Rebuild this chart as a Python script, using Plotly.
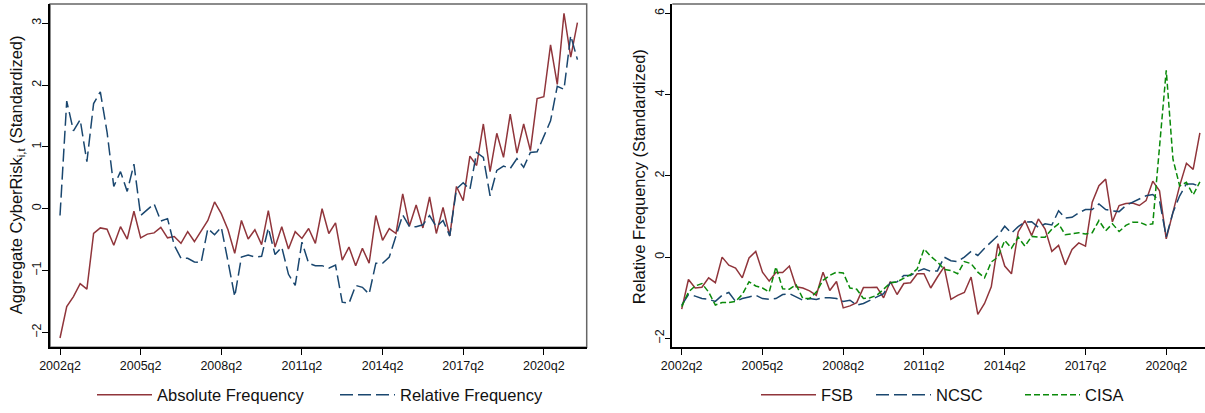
import plotly.graph_objects as go

# ---------------- data ----------------
start_year, start_q = 2002, 2
n_periods = 78
quarters = []
y, q = start_year, start_q
for _ in range(n_periods):
    quarters.append(f"{y}q{q}")
    q += 1
    if q > 4:
        q = 1
        y += 1

tick_labels = ["2002q2", "2005q2", "2008q2", "2011q2", "2014q2", "2017q2", "2020q2"]

absolute_freq = [-2.09, -1.58, -1.42, -1.21, -1.30, -0.40, -0.31, -0.33, -0.59, -0.29,
                 -0.49, -0.04, -0.47, -0.41, -0.39, -0.30, -0.47, -0.45, -0.56, -0.37,
                 -0.53, -0.37, -0.19, 0.11, -0.08, -0.34, -0.72, -0.19, -0.49, -0.34,
                 -0.58, -0.03, -0.62, -0.29, -0.65, -0.37, -0.48, -0.32, -0.56, 0.00,
                 -0.40, -0.23, -0.83, -0.62, -0.92, -0.64, -0.88, -0.11, -0.51, -0.32,
                 -0.40, 0.24, -0.28, 0.06, -0.31, 0.19, -0.40, 0.02, -0.44, 0.36,
                 0.13, 0.85, 0.70, 1.37, 0.60, 1.22, 0.83, 1.53, 0.90, 1.37,
                 0.94, 1.78, 1.81, 2.65, 2.01, 3.16, 2.45, 3.01]

relative_freq = [-0.11, 1.74, 1.26, 1.44, 0.76, 1.70, 1.89, 1.24, 0.36, 0.60,
                 0.28, 0.72, -0.11, -0.01, 0.08, -0.20, -0.16, -0.59, -0.80, -0.80,
                 -0.86, -0.87, -0.32, -0.42, -0.30, -0.85, -1.42, -0.78, -0.75, -0.78,
                 -0.77, -0.31, -0.74, -0.62, -1.06, -1.24, -0.54, -0.88, -0.92, -0.92,
                 -0.96, -0.91, -1.51, -1.53, -1.24, -1.27, -1.38, -0.88, -0.88, -0.78,
                 -0.44, -0.10, -0.29, -0.29, -0.26, -0.11, -0.29, -0.19, -0.44, 0.32,
                 0.42, 0.31, 0.91, 0.83, 0.21, 0.62, 0.69, 0.65, 0.81, 0.67,
                 0.91, 0.92, 1.17, 1.42, 1.98, 1.93, 2.80, 2.41]

fsb = [-1.28, -0.55, -0.76, -0.74, -0.51, -0.63, 0.00, -0.20, -0.27, -0.51,
       -0.02, 0.14, -0.37, -0.59, -0.38, -0.38, -0.22, -0.73, -0.76, -0.83,
       -0.94, -0.37, -0.82, -0.60, -1.25, -1.20, -1.12, -0.75, -0.75, -0.74,
       -1.00, -0.60, -0.92, -0.65, -0.63, -0.41, -0.41, -0.76, -0.49, -0.24,
       -1.04, -0.94, -0.87, -0.49, -1.41, -1.14, -0.73, 0.33, -0.22, -0.41,
       0.62, 0.90, 0.53, 0.94, 0.69, 0.14, 0.29, -0.19, 0.19, 0.35,
       0.27, 1.35, 1.76, 1.92, 0.87, 1.27, 1.32, 1.33, 1.27, 1.39,
       1.87, 1.63, 0.45, 1.10, 1.76, 2.31, 2.16, 3.06]

ncsc = [-1.18, -0.92, -0.96, -1.02, -1.04, -1.09, -0.94, -0.87, -1.09, -1.02,
        -0.98, -0.94, -1.02, -1.04, -1.02, -0.92, -0.90, -0.98, -1.06, -1.02,
        -1.04, -1.00, -1.00, -1.02, -1.09, -1.06, -1.18, -1.14, -1.06, -0.98,
        -0.90, -0.63, -0.61, -0.45, -0.45, -0.35, -0.29, -0.35, -0.34, 0.00,
        -0.09, -0.11, 0.00, 0.14, 0.04, 0.22, 0.37, 0.53, 0.76, 0.59,
        0.75, 0.86, 0.87, 0.73, 0.82, 0.79, 1.14, 0.96, 0.98, 1.09,
        1.17, 1.17, 1.31, 1.17, 1.14, 1.12, 1.27, 1.35, 1.43, 1.51,
        1.54, 1.39, 0.50, 1.10, 1.51, 1.80, 1.80, 1.74]

cisa = [-1.22, -0.86, -0.71, -0.65, -0.86, -1.18, -1.12, -1.12, -1.09, -0.92,
        -0.61, -0.71, -0.76, -0.86, -0.24, -0.78, -0.79, -0.68, -1.02, -1.02,
        -0.86, -0.57, -0.45, -0.37, -0.39, -0.76, -0.79, -1.02, -1.00, -0.94,
        -0.79, -0.63, -0.61, -0.53, -0.43, -0.29, 0.20, 0.02, -0.12, -0.30,
        -0.33, -0.41, -0.11, -0.16, -0.37, -0.51, -0.12, 0.00, 0.41, 0.22,
        0.49, 0.27, 0.51, 0.49, 0.49, 0.69, 0.82, 0.55, 0.57, 0.60,
        0.57, 0.60, 0.90, 0.65, 0.82, 0.63, 0.78, 0.86, 0.86, 0.79,
        0.82, 2.70, 4.60, 2.41, 1.75, 1.84, 1.53, 1.85]

# ---------------- style ----------------
RED = "#90353b"
NAVY = "#1a476f"
GREEN = "#0a8a0a"
LONGDASH = "13px,5px"
SHORTDASH = "6px,3px"
TICKFONT = dict(family="Liberation Sans Narrow, Liberation Sans, Arial", size=12.5, color="#111")
TEXTFONT = dict(family="Liberation Sans, Arial", size=16.5, color="#111")

W, H = 1205, 413
ITEMW = 55
TEXT_OFF = ITEMW + 10  # sample area before the legend text
LEG_Y = (H - 397) / H

fig = go.Figure()
fig.add_trace(go.Scatter(x=quarters, y=absolute_freq, mode="lines", name="Absolute Frequency",
                         line=dict(color=RED, width=1.5), xaxis="x", yaxis="y", legend="legend"))
fig.add_trace(go.Scatter(x=quarters, y=relative_freq, mode="lines", name="Relative Frequency",
                         line=dict(color=NAVY, width=1.5, dash=LONGDASH), xaxis="x", yaxis="y", legend="legend2"))
fig.add_trace(go.Scatter(x=quarters, y=fsb, mode="lines", name="FSB",
                         line=dict(color=RED, width=1.5), xaxis="x2", yaxis="y2", legend="legend3"))
fig.add_trace(go.Scatter(x=quarters, y=ncsc, mode="lines", name="NCSC",
                         line=dict(color=NAVY, width=1.5, dash=LONGDASH), xaxis="x2", yaxis="y2", legend="legend4"))
fig.add_trace(go.Scatter(x=quarters, y=cisa, mode="lines", name="CISA",
                         line=dict(color=GREEN, width=1.5, dash=SHORTDASH), xaxis="x2", yaxis="y2", legend="legend5"))

ydom = [64 / H, 409 / H]
common_x = dict(type="category", tickvals=tick_labels, ticktext=tick_labels, ticks="outside",
                ticklen=6, tickwidth=1, tickcolor="#000", showline=True, linecolor="#000",
                linewidth=1.5, showgrid=False, zeroline=False, tickfont=TICKFONT, automargin=False)
common_y = dict(ticks="outside", ticklen=6, tickwidth=1, tickcolor="#000", showline=True,
                linecolor="#000", linewidth=1.5, showgrid=False, zeroline=False,
                tickangle=-90, tickfont=TICKFONT, automargin=False, ticklabelstandoff=-4)


def leg(text_x):
    return dict(orientation="h", x=(text_x - TEXT_OFF) / W, xanchor="left", y=LEG_Y,
                yanchor="middle", font=TEXTFONT, bgcolor="rgba(0,0,0,0)", borderwidth=0,
                itemwidth=ITEMW)


fig.update_layout(
    width=W, height=H,
    margin=dict(l=0, r=0, t=0, b=0),
    paper_bgcolor="white", plot_bgcolor="white",
    xaxis=dict(domain=[50 / W, 586.7 / W], range=[-1.49, 78.38], anchor="y", **common_x),
    yaxis=dict(domain=ydom, range=[-2.24, 3.31], tickvals=[-2, -1, 0, 1, 2, 3], anchor="x", **common_y),
    xaxis2=dict(domain=[672.3 / W, 1.0], range=[-1.40, 77.76], anchor="y2", **common_x),
    yaxis2=dict(domain=ydom, range=[-2.22, 6.23], tickvals=[-2, 0, 2, 4, 6], anchor="x2", **common_y),
    showlegend=True,
    legend=leg(157),
    legend2=leg(400),
    legend3=leg(821),
    legend4=leg(936),
    legend5=leg(1085),
    annotations=[
        dict(text="Aggregate CyberRisk<sub>i,t</sub> (Standardized)", textangle=-90,
             x=17 / W, y=(H - 176) / H, xref="paper", yref="paper", showarrow=False,
             xanchor="center", yanchor="middle", font=TEXTFONT),
        dict(text="Relative Frequency (Standardized)", textangle=-90,
             x=639 / W, y=(H - 178) / H, xref="paper", yref="paper", showarrow=False,
             xanchor="center", yanchor="middle", font=TEXTFONT),
    ],
    shapes=[
        dict(type="rect", xref="x domain", yref="y domain", x0=0, x1=1, y0=0, y1=1,
             line=dict(color="#666", width=1.5), layer="below"),
        dict(type="line", xref="x2 domain", yref="y2 domain", x0=0, x1=1, y0=1, y1=1,
             line=dict(color="#666", width=1.5), layer="below"),
    ],
)

fig.write_html("out.html")
